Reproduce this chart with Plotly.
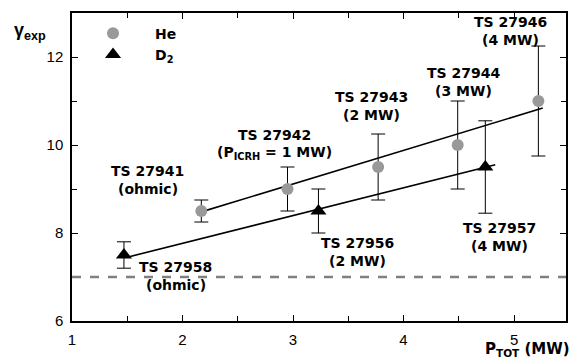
import plotly.graph_objects as go

# ---- data ----
he_x = [2.17, 2.95, 3.77, 4.49, 5.22]
he_y = [8.5, 9.0, 9.5, 10.0, 11.0]
he_err = [0.25, 0.5, 0.75, 1.0, 1.25]

d2_x = [1.47, 3.23, 4.74]
d2_y = [7.5, 8.5, 9.5]
d2_err = [0.3, 0.5, 1.05]

he_fit_x = [2.17, 5.26]
he_fit_y = [8.48, 10.84]
d2_fit_x = [1.50, 4.83]
d2_fit_y = [7.45, 9.55]

ohmic_level = 7.0

label_top = ["TS 27941", "TS 27958", "TS 27942", "TS 27943",
             "TS 27944", "TS 27946", "TS 27956", "TS 27957"]
label_bottom = ["(ohmic)", "(ohmic)", "(P<sub>ICRH</sub> = 1 MW)", "(2 MW)",
                "(3 MW)", "(4 MW)", "(2 MW)", "(4 MW)"]
label_x = [1.685, 1.937, 2.83, 3.71, 4.54, 4.97, 3.58, 4.865]
label_y = [9.2, 7.02, 10.03, 10.88, 11.43, 12.58, 7.57, 7.91]

BOLD = "DejaVu Sans"
REG = "Liberation Sans"

fig = go.Figure()

fig.add_trace(go.Scatter(x=he_fit_x, y=he_fit_y, mode="lines",
                         line=dict(color="black", width=1.6), showlegend=False, hoverinfo="skip"))
fig.add_trace(go.Scatter(x=d2_fit_x, y=d2_fit_y, mode="lines",
                         line=dict(color="black", width=1.6), showlegend=False, hoverinfo="skip"))

fig.add_trace(go.Scatter(
    x=he_x, y=he_y, mode="markers", name="He",
    marker=dict(symbol="circle", size=12, color="#999999"),
    error_y=dict(type="data", array=he_err, color="black", thickness=1, width=7),
))
fig.add_trace(go.Scatter(
    x=d2_x, y=d2_y, mode="markers", name="D<sub>2</sub>",
    marker=dict(symbol="triangle-up", size=14, color="black"),
    error_y=dict(type="data", array=d2_err, color="black", thickness=1, width=7),
))

fig.add_shape(type="line", xref="x domain", yref="y", x0=0, x1=1,
              y0=ohmic_level, y1=ohmic_level,
              line=dict(color="#808080", width=2.5, dash="dash"))

lab_font = dict(family=BOLD, size=14, color="black", weight="bold")
for t1, t2, x, y in zip(label_top, label_bottom, label_x, label_y):
    fig.add_annotation(x=x, y=y, xref="x", yref="y", text=t1, showarrow=False,
                       font=lab_font, xanchor="center", yanchor="middle", yshift=9)
    fig.add_annotation(x=x, y=y, xref="x", yref="y", text=t2, showarrow=False,
                       font=lab_font, xanchor="center", yanchor="middle", yshift=-9)

# axis titles
fig.add_annotation(xref="paper", yref="paper", x=-0.121, y=0.94,
                   text="γ<sub>exp</sub>", showarrow=False, xanchor="left", yanchor="middle",
                   font=dict(family=REG, size=18, color="black", weight="bold"))
fig.add_annotation(xref="paper", yref="paper", x=1.012, y=-0.094,
                   text="P<sub>TOT</sub> (MW)", showarrow=False, xanchor="right", yanchor="middle",
                   font=dict(family=BOLD, size=15, color="black", weight="bold"))

axis_common = dict(showline=True, linecolor="black", linewidth=1.5, mirror="allticks",
                   ticks="inside", ticklen=6, tickwidth=1.2, tickcolor="black",
                   showgrid=False, zeroline=False,
                   tickfont=dict(family=REG, size=15, color="black"))

fig.update_xaxes(range=[1, 5.47], dtick=1, tick0=1,
                 minor=dict(dtick=0.5, ticks="inside", ticklen=5, tickcolor="black", tickwidth=1.2),
                 ticklabelstandoff=4, **axis_common)
fig.update_yaxes(range=[6, 13], dtick=2, tick0=6,
                 minor=dict(dtick=1, ticks="inside", ticklen=5, tickcolor="black", tickwidth=1.2),
                 ticklabelstandoff=4, **axis_common)

fig.update_layout(
    width=573, height=362,
    margin=dict(l=72, r=5, t=13, b=41),
    paper_bgcolor="white", plot_bgcolor="white",
    legend=dict(x=-0.002, y=0.985, xanchor="left", yanchor="top",
                bgcolor="rgba(0,0,0,0)", itemwidth=74, tracegroupgap=0,
                font=dict(family=BOLD, size=14, color="black", weight="bold")),
)

fig.write_html("out.html")
